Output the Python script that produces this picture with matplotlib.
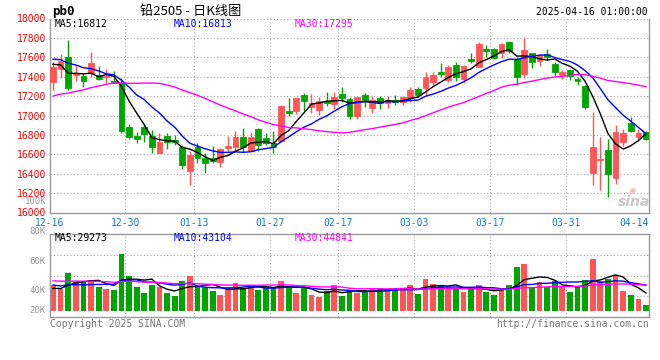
import numpy as np
import pandas as pd
import matplotlib
matplotlib.use('Agg')
import matplotlib.pyplot as plt
from matplotlib.transforms import blended_transform_factory

# trading days shown on the chart
dates = ['12-16', '12-17', '12-18', '12-19', '12-20', '12-23', '12-24', '12-25', '12-26', '12-27',
         '12-30', '12-31', '01-02', '01-03', '01-06', '01-07', '01-08', '01-09', '01-10',
         '01-13', '01-14', '01-15', '01-16', '01-17', '01-20', '01-21', '01-22', '01-23', '01-24',
         '01-27', '02-05', '02-06', '02-07', '02-10', '02-11', '02-12', '02-13', '02-14',
         '02-17', '02-18', '02-19', '02-20', '02-21', '02-24', '02-25', '02-26', '02-27', '02-28',
         '03-03', '03-04', '03-05', '03-06', '03-07', '03-10', '03-11', '03-12', '03-13', '03-14',
         '03-17', '03-18', '03-19', '03-20', '03-21', '03-24', '03-25', '03-26', '03-27', '03-28',
         '03-31', '04-01', '04-02', '04-03', '04-07', '04-08', '04-09', '04-10', '04-11',
         '04-14', '04-15']
label_dates = ['12-16', '12-30', '01-13', '01-27', '02-17', '03-03', '03-17', '03-31', '04-14']

open_ = [17349, 17476, 17607, 17418, 17407, 17442, 17418, 17393, 17359, 17339,
         16878, 16789, 16878, 16789, 16610, 16789, 16747, 16679, 16431, 16672,
         16565, 16565, 16524, 16668, 16679, 16782, 16637, 16857, 16765, 16713,
         16741, 17046, 17046, 17211, 17084, 17057, 17150, 17119, 17222, 17167,
         16995, 17211, 17074, 17177, 17125, 17160, 17143, 17177, 17270, 17280,
         17349, 17452, 17366, 17521, 17373, 17579, 17497, 17682, 17682, 17648,
         17761, 17579, 17428, 17641, 17565, 17634, 17531, 17418, 17469, 17380,
         17304, 16411, 16541, 16644, 16352, 16730, 16919, 16775, 16833]
high = [17555, 17634, 17778, 17521, 17442, 17655, 17510, 17476, 17459, 17383,
        16909, 16833, 16909, 16850, 16816, 16816, 16799, 16696, 16637, 16713,
        16617, 16686, 16661, 16789, 16844, 16875, 16833, 16868, 16816, 16844,
        17108, 17177, 17177, 17235, 17222, 17194, 17246, 17246, 17290, 17194,
        17194, 17235, 17201, 17201, 17201, 17211, 17201, 17297, 17290, 17452,
        17452, 17538, 17521, 17555, 17521, 17648, 17761, 17727, 17693, 17744,
        17772, 17607, 17813, 17648, 17634, 17682, 17555, 17469, 17476, 17400,
        17314, 17040, 16782, 16758, 16902, 16857, 16988, 16857, 16840]
low = [17263, 17383, 17263, 17359, 17290, 17400, 17366, 17339, 17332, 16816,
       16754, 16713, 16730, 16610, 16610, 16651, 16696, 16445, 16283, 16507,
       16411, 16507, 16466, 16627, 16627, 16627, 16637, 16637, 16696, 16617,
       16730, 16995, 17015, 17050, 17022, 17005, 17098, 17064, 17143, 16960,
       16960, 17084, 17022, 17064, 17074, 17108, 17108, 17143, 17194, 17211,
       17314, 17400, 17349, 17359, 17339, 17538, 17497, 17607, 17579, 17589,
       17648, 17314, 17383, 17486, 17510, 17572, 17407, 17373, 17366, 17314,
       17064, 16283, 16232, 16160, 16294, 16686, 16833, 16741, 16747]
close = [17503, 17562, 17280, 17442, 17359, 17538, 17373, 17407, 17339, 16844,
         16782, 16754, 16809, 16679, 16730, 16727, 16727, 16490, 16593, 16558,
         16507, 16534, 16651, 16685, 16782, 16679, 16782, 16696, 16720, 16672,
         17098, 17029, 17177, 17153, 17132, 17150, 17125, 17194, 17177, 16995,
         17194, 17153, 17160, 17125, 17143, 17143, 17194, 17263, 17211, 17400,
         17418, 17428, 17504, 17400, 17510, 17565, 17737, 17668, 17589, 17737,
         17668, 17400, 17675, 17555, 17624, 17607, 17452, 17452, 17407, 17359,
         17091, 16671, 16554, 16397, 16829, 16816, 16844, 16816, 16754]
# volume in thousands of lots
volume = [42.9, 36.3, 63.3, 49.5, 49.5, 51.2, 39.1, 36.3, 34.7, 94.1,
          57.8, 39.1, 29.2, 42.9, 39.1, 29.2, 24.8, 49.5, 57.8, 41.3,
          37.4, 33.0, 26.4, 39.1, 46.8, 37.4, 42.9, 34.7, 39.1, 39.1,
          49.5, 37.4, 30.3, 39.1, 26.4, 22.6, 33.6, 42.9, 25.3, 34.7,
          30.3, 33.6, 37.4, 37.4, 35.8, 35.8, 37.4, 42.9, 28.1, 52.8,
          44.6, 41.3, 39.1, 37.4, 31.4, 35.8, 42.9, 30.8, 26.4, 38.0,
          42.9, 73.2, 77.6, 39.1, 47.9, 39.1, 50.1, 39.1, 31.4, 39.1,
          51.2, 85.8, 49.0, 52.8, 59.4, 33.6, 26.4, 19.3, 9.9]
# sessions before the window, only used to start the moving averages
prior_close = [16950, 16980, 16920, 16880, 16850, 16900, 16870, 16900, 16850, 16896,
               16760, 16720, 16700, 16792, 17250, 17350, 17414, 17380, 17420, 17438,
               17600, 17655, 17620, 17640, 17645, 17597, 17710, 17442, 17388]
prior_volume = [55, 60, 48, 52, 58, 50, 47, 62, 55, 49, 53, 57, 46, 51, 59,
                54, 50, 48, 56, 55, 52, 45, 47, 50, 48, 38, 35, 32, 39]

# legend texts as printed on the chart
price_ma_text = ['MA5:16812', 'MA10:16813', 'MA30:17295']
vol_ma_text = ['MA5:29273', 'MA10:43104', 'MA30:44841']

RED = '#FF5555'
GREEN = '#00A600'
GRID = '#AAAAAA'
BORDER = '#999999'
MONO = 'DejaVu Sans Mono'

n = len(close)
x = np.arange(n)
o = np.array(open_)
c = np.array(close)
up = c >= o
colors = [RED if u else GREEN for u in up]

all_close = pd.Series(prior_close + close)
all_vol = pd.Series(prior_volume + volume)
k = len(prior_close)
ma_price = {m: all_close.rolling(m).mean().to_numpy()[k:] for m in (5, 10, 30)}
ma_vol = {m: all_vol.rolling(m).mean().to_numpy()[k:] for m in (5, 10, 30)}
ma_colors = {5: 'black', 10: '#0000FF', 30: '#FF00FF'}

grid_pos = [dates.index(d) - 0.5 for d in label_dates]
grid_pos[0] = -0.4

W, H = 660, 360
fig = plt.figure(figsize=(W / 100, H / 100), dpi=100)


def fx(px):
    return px / W


def fy(py):
    return 1 - py / H


ax = fig.add_axes([fx(50), fy(212.5), fx(649) - fx(50), fy(18.5) - fy(212.5)])
axv = fig.add_axes([fx(50), fy(317), fx(649) - fx(50), fy(234) - fy(317)])

# candles
ax.vlines(x, low, high, colors=colors, linewidth=1, zorder=2)
ax.bar(x, np.abs(c - o), bottom=np.minimum(o, c), width=0.75, color=colors,
       edgecolor=colors, linewidth=0.6, zorder=3)
for m in (5, 10, 30):
    ax.plot(x, ma_price[m], color=ma_colors[m], linewidth=1, zorder=4)

ax.set_xlim(-0.4, 78.4)
ax.set_ylim(16000, 18000)
yt = list(range(16000, 18001, 200))
ax.set_yticks(yt)
ax.set_yticklabels([str(v) for v in yt], color='#FF0000', fontsize=7, family=MONO)
for v in yt[1:]:
    ax.axhline(v, color=GRID, linewidth=0.8, linestyle=(0, (1, 2)), zorder=1)
for g in grid_pos[1:-1]:
    ax.axvline(g, color=GRID, linewidth=0.8, linestyle=(0, (1, 2)), zorder=1)
ax.set_xticks(grid_pos)
ax.set_xticklabels(label_dates, color='#1080C8', fontsize=7, family=MONO)
ax.tick_params(length=0, pad=3)
ax.tick_params(axis='x', pad=4)
ax.spines['top'].set_visible(False)
for s in ('left', 'right', 'bottom'):
    ax.spines[s].set_color(BORDER)
    ax.spines[s].set_linewidth(1)

# volume
axv.bar(x, volume, width=0.75, color=colors, linewidth=0, zorder=2)
for m in (5, 10, 30):
    axv.plot(x, ma_vol[m], color=ma_colors[m], linewidth=1, zorder=3)
axv.set_xlim(-0.4, 78.4)
axv.set_ylim(-9.9, 127.05)
lo, hi = axv.get_ylim()
for f in (0.25, 0.5, 0.75):
    axv.axhline(lo + f * (hi - lo), color=GRID, linewidth=0.8, linestyle=(0, (1, 2)), zorder=1)
for g in grid_pos[1:-1]:
    axv.axvline(g, color=GRID, linewidth=0.8, linestyle=(0, (1, 2)), zorder=1)
axv.set_xticks([])
axv.set_yticks([])
for s in axv.spines.values():
    s.set_color(BORDER)
    s.set_linewidth(1)
trv = blended_transform_factory(axv.transAxes, axv.transData)
for lab, val in [('80K', 132), ('60K', 82.5), ('40K', 34.6), ('20K', 1.6)]:
    axv.text(-0.007, val, lab, transform=trv, ha='right', va='center', color='#999999',
             fontsize=6.5, family=MONO, clip_on=False)

# header texts
fig.text(fx(52), fy(11), 'pb0', fontsize=9, family=MONO, weight='bold', va='center')
fig.text(fx(140), fy(11), '铅2505 - 日K线图', fontsize=9.5, va='center',
         family=['Noto Sans CJK SC', 'DejaVu Sans'])
fig.text(fx(648), fy(12), '2025-04-16 01:00:00', fontsize=7, family=MONO, ha='right', va='center')
fig.text(fx(46), fy(201), '100K', fontsize=6.5, family=MONO, ha='right', va='center', color='#999999')

for txt, px_x, m in zip(price_ma_text, (55, 174, 295), (5, 10, 30)):
    fig.text(fx(px_x), fy(24), txt, fontsize=7, family=MONO, va='center', color=ma_colors[m])
for txt, px_x, m in zip(vol_ma_text, (55, 174, 295), (5, 10, 30)):
    fig.text(fx(px_x), fy(238), txt, fontsize=7, family=MONO, va='center', color=ma_colors[m])

fig.text(fx(50), fy(324), 'Copyright 2025 SINA.COM', fontsize=7, family=MONO,
         va='center', color='#777777')
fig.text(fx(649), fy(324), 'http://finance.sina.com.cn', fontsize=7, family=MONO,
         ha='right', va='center', color='#777777')

# sina watermark
fig.text(fx(634), fy(202), 'sina', fontsize=10, style='italic', weight='bold',
         color='#C8C8C8', ha='center', va='center')
fig.text(fx(632), fy(190), '◉', fontsize=6, color='#F4B0B0', ha='center', va='center')

fig.savefig('out.png', dpi=100)
